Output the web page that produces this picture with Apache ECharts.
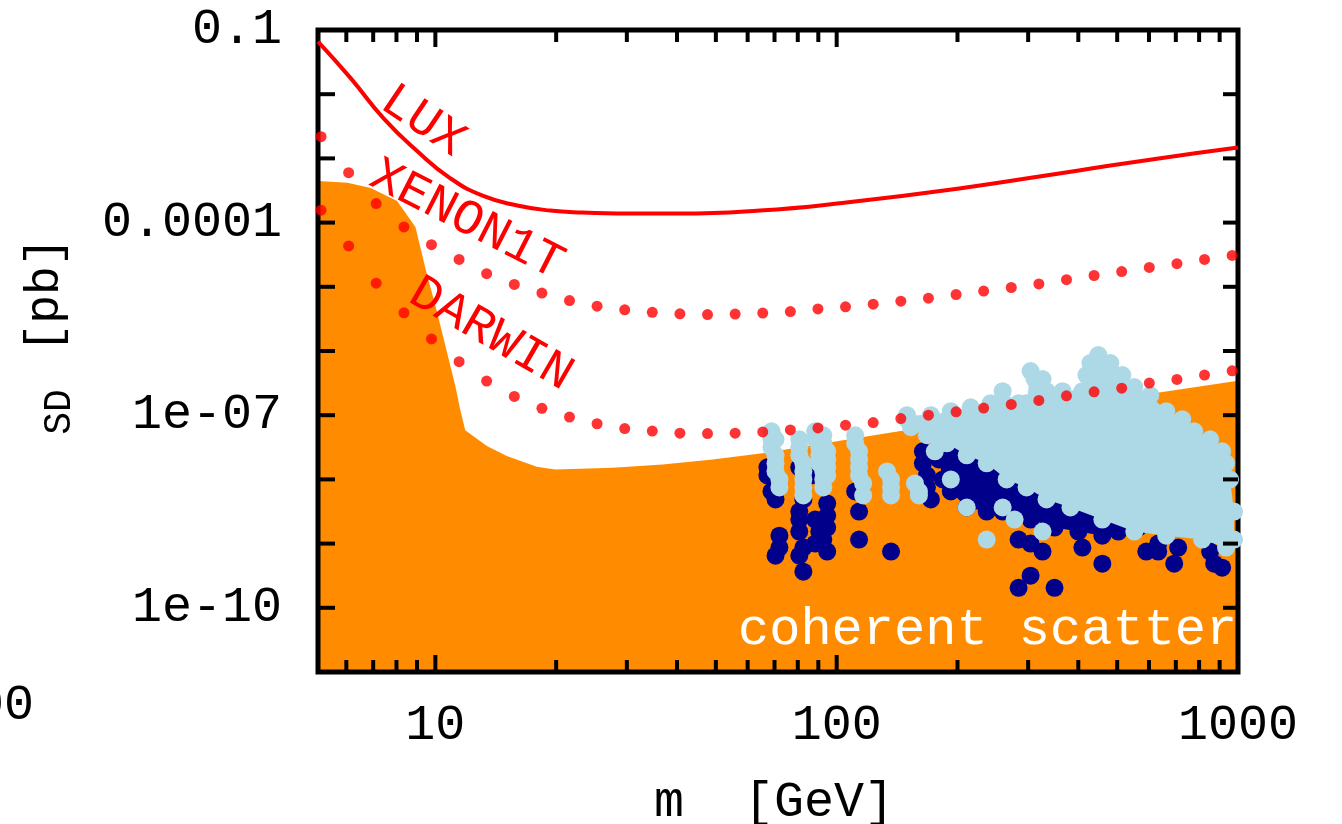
<!DOCTYPE html>
<html>
<head>
<meta charset="utf-8">
<script src="https://cdn.jsdelivr.net/npm/echarts@6/dist/echarts.min.js"></script>
<style>
  html, body { margin: 0; padding: 0; background: #ffffff; }
  #chart { width: 1342px; height: 824px; }
</style>
</head>
<body>
<div id="chart"></div>
<script>
// Axis ranges: dark-matter mass m [GeV] (log) vs spin-dependent cross section [pb] (log)
const X_MIN = 5.1, X_MAX = 1000;
const Y_MIN = 1e-11, Y_MAX = 0.1;

// Tick positions and labels
const xTickValues = [6, 7, 8, 9, 10, 20, 30, 40, 50, 60, 70, 80, 90, 100, 200, 300, 400, 500, 600, 700, 800, 900];
const xLabelValues = [10, 100, 1000];
const xLabelTexts = ['10', '100', '1000'];
const yTickValues = [1e-10, 1e-9, 1e-8, 1e-7, 1e-6, 1e-5, 1e-4, 1e-3, 1e-2];
const yLabelValues = [1e-10, 1e-7, 1e-4, 0.1];
const yLabelTexts = ['1e-10', '1e-07', '0.0001', '0.1'];

// LUX exclusion limit (solid)
const luxMass  = [5.1, 6.15, 7.43, 9.02, 10.9, 13.16, 16.0, 19.3, 23.3, 32.3, 40.6, 64.4, 101.6, 202, 401, 634, 1000];
const luxSigma = [0.066, 0.0178, 0.0042, 1.29e-3, 4.9e-4, 2.6e-4, 1.85e-4, 1.54e-4, 1.44e-4, 1.38e-4, 1.38e-4, 1.54e-4, 2.0e-4, 3.4e-4, 6.5e-4, 1.0e-3, 1.48e-3];

// Projected sensitivities (dotted), sampled at common masses
const dotMass = [5.19, 6.08, 7.12, 8.35, 9.78, 11.46, 13.42, 15.73, 18.43, 21.59, 25.29, 29.64, 34.72, 40.68, 47.66, 55.85, 65.43, 76.66, 89.82, 105.2, 123.3, 144.5, 169.3, 198.4, 232.4, 272.3, 319.0, 373.8, 437.9, 513.1, 601.2, 704.4, 825.3, 966.9];
const xenon1tSigma = [2.18e-3, 5.98e-4, 1.98e-4, 8.57e-5, 4.53e-5, 2.67e-5, 1.60e-5, 1.09e-5, 7.98e-6, 6.11e-6, 4.99e-6, 4.38e-6, 4.00e-6, 3.79e-6, 3.70e-6, 3.76e-6, 3.90e-6, 4.11e-6, 4.53e-6, 4.87e-6, 5.37e-6, 5.98e-6, 6.65e-6, 7.59e-6, 8.57e-6, 9.75e-6, 1.11e-5, 1.29e-5, 1.50e-5, 1.73e-5, 2.00e-5, 2.29e-5, 2.67e-5, 3.08e-5];
const darwinSigma = [1.56e-4, 4.33e-5, 1.14e-5, 3.93e-6, 1.54e-6, 6.81e-7, 3.40e-7, 1.96e-7, 1.28e-7, 9.37e-8, 7.36e-8, 6.19e-8, 5.66e-8, 5.24e-8, 5.18e-8, 5.24e-8, 5.48e-8, 5.89e-8, 6.34e-8, 6.98e-8, 7.69e-8, 8.87e-8, 1.0e-7, 1.13e-7, 1.29e-7, 1.47e-7, 1.70e-7, 2.00e-7, 2.31e-7, 2.64e-7, 3.16e-7, 3.61e-7, 4.22e-7, 4.92e-7];

// Coherent neutrino scattering floor (filled below)
const coherentMass  = [5.1, 6.04, 6.90, 8.03, 8.92, 9.45, 10.10, 10.69, 11.21, 11.54, 11.87, 13.44, 15.07, 17.89, 19.87, 27.69, 36.86, 49.07, 65.3, 143, 1000];
const coherentSigma = [4.45e-4, 4.17e-4, 3.46e-4, 2.17e-4, 8.57e-5, 1.91e-5, 4.03e-6, 9.55e-7, 2.87e-7, 1.20e-7, 5.83e-8, 3.31e-8, 2.31e-8, 1.58e-8, 1.43e-8, 1.52e-8, 1.71e-8, 2.05e-8, 2.55e-8, 5.62e-8, 3.44e-7];

// Model points excluded (dark) — dense band outline and scattered points
const navyBandEdge = [
  [179.7, 4.22e-8], [253.3, 1.54e-8], [357.0, 5.62e-9], [480.8, 2.74e-9], [564.4, 1.78e-9],
  [503.3, 1.54e-9], [459.2, 1.33e-9], [400.3, 1.54e-9], [349.0, 1.78e-9], [304.2, 2.37e-9],
  [259.2, 3.16e-9], [236.5, 3.16e-9], [210.9, 3.65e-9], [192.5, 6.49e-9], [183.9, 1.00e-8],
  [179.7, 2.05e-8]
];
const navyPoints = [
  [67.2, 1.54e-8], [67.2, 1.155e-8], [68.8, 6.49e-9], [70.4, 4.87e-9], [72.0, 1.33e-9], [72.0, 8.66e-10], [70.4, 6.49e-10],
  [80.7, 1.54e-8], [86.4, 1.155e-8], [82.6, 4.87e-9], [80.7, 3.16e-9], [80.7, 2.37e-9], [80.7, 1.54e-9],
  [82.6, 8.66e-10], [80.7, 6.49e-10], [82.6, 3.65e-10],
  [94.7, 4.22e-9], [94.7, 2.74e-9], [94.7, 1.78e-9], [92.6, 1.155e-9], [88.4, 1.00e-9], [94.7, 7.50e-10],
  [88.4, 2.37e-9], [90.5, 1.54e-9],
  [111.2, 6.49e-9], [113.7, 3.16e-9], [113.7, 1.155e-9], [136.6, 7.50e-10],
  [164.0, 2.74e-8], [164.0, 1.78e-8], [167.8, 1.155e-8], [167.8, 7.50e-9], [171.7, 4.87e-9],
  [284.0, 1.155e-9], [304.2, 1.00e-9], [325.8, 7.50e-10], [304.2, 3.16e-10], [284.0, 2.05e-10],
  [349.0, 2.05e-10], [409.5, 8.66e-10], [459.2, 4.87e-10], [590.8, 7.50e-10], [632.7, 1.00e-9],
  [632.7, 7.50e-10], [693.4, 4.87e-10], [709.5, 8.66e-10], [852.2, 7.50e-10], [872.0, 4.87e-10],
  [912.9, 4.22e-10]
];

// Model points allowed (light) — dense cloud outline, vertical streaks and isolated points
const lightCloudEdge = [
  [149.7, 1.00e-7], [171.7, 1.00e-7], [192.5, 1.155e-7], [215.8, 1.33e-7], [242.0, 1.54e-7],
  [259.2, 2.37e-7], [284.0, 1.54e-7], [297.3, 1.54e-7], [304.2, 4.87e-7], [325.8, 3.65e-7],
  [333.4, 2.37e-7], [349.0, 1.78e-7], [365.3, 2.37e-7], [391.2, 1.78e-7], [409.5, 2.37e-7],
  [419.0, 4.22e-7], [428.7, 6.49e-7], [448.8, 8.66e-7], [480.8, 6.49e-7], [514.9, 4.22e-7],
  [551.5, 2.74e-7], [604.5, 2.05e-7], [662.3, 1.155e-7], [726.0, 8.66e-8], [777.6, 5.62e-8],
  [852.2, 4.22e-8], [912.9, 2.74e-8], [933.7, 1.78e-8], [955.2, 1.00e-8], [977.5, 3.16e-9],
  [977.5, 1.155e-9], [933.7, 8.66e-10], [814.1, 1.155e-9], [662.3, 1.33e-9], [551.5, 1.54e-9],
  [459.2, 2.37e-9], [382.4, 3.65e-9], [333.4, 4.87e-9], [297.3, 7.50e-9], [265.2, 1.00e-8],
  [236.5, 1.78e-8], [210.9, 2.37e-8], [188.1, 3.65e-8], [175.6, 2.74e-8], [167.8, 4.87e-8],
  [153.1, 6.49e-8], [149.7, 8.66e-8]
];
const lightPoints = [
  [68.8, 5.62e-8], [68.8, 4.22e-8], [70.4, 4.22e-8], [68.8, 3.16e-8], [70.4, 2.37e-8], [70.4, 1.78e-8],
  [70.4, 1.33e-8], [72.0, 1.00e-8], [72.0, 7.50e-9],
  [80.7, 4.22e-8], [80.7, 3.16e-8], [80.7, 2.37e-8], [82.6, 1.78e-8], [82.6, 1.33e-8], [82.6, 1.00e-8],
  [82.6, 7.50e-9], [82.6, 5.62e-9],
  [88.4, 5.62e-8], [88.4, 4.22e-8], [90.5, 3.16e-8], [90.5, 2.37e-8], [90.5, 1.78e-8], [92.6, 1.33e-8],
  [92.6, 1.00e-8], [92.6, 7.50e-9],
  [92.6, 4.87e-8], [92.6, 3.65e-8], [94.7, 2.74e-8], [94.7, 2.05e-8], [94.7, 1.54e-8], [94.7, 1.155e-8],
  [111.2, 4.87e-8], [111.2, 3.65e-8], [113.7, 2.74e-8], [113.7, 2.05e-8], [113.7, 1.54e-8], [113.7, 1.155e-8],
  [116.4, 8.66e-9], [116.4, 5.62e-9],
  [133.5, 1.33e-8], [136.6, 1.00e-8], [136.6, 7.50e-9], [136.6, 5.62e-9],
  [156.7, 8.66e-9], [160.3, 6.49e-9], [160.3, 5.62e-9],
  [192.5, 1.00e-8], [210.9, 3.65e-9], [259.2, 3.65e-9], [277.6, 2.37e-9], [325.8, 1.54e-9], [236.5, 1.155e-9],
  [311.2, 3.65e-7], [318.4, 2.74e-7]
];

const FONT = 'Liberation Mono';
const RED = '#ff0000';
const ORANGE = '#ff8c00';
const NAVY = '#00008b';
const LIGHT = '#add8e6';
const POINT_SIZE = 18;

const chart = echarts.init(document.getElementById('chart'), null, { renderer: 'canvas' });

function pairs(xs, ys) { return xs.map((x, i) => [x, ys[i]]); }

function polygonSeries(points, color, z) {
  return {
    type: 'custom', coordinateSystem: 'cartesian2d', z: z, silent: true,
    data: [points[0]],
    renderItem: function (params, api) {
      return { type: 'polygon', shape: { points: points.map(p => api.coord(p)) }, style: { fill: color } };
    }
  };
}

function dotSeries(points, color, size, z) {
  return {
    type: 'scatter', data: points, symbol: 'circle', symbolSize: size, z: z, silent: true,
    itemStyle: { color: color, opacity: 1 }
  };
}

const option = {
  animation: false,
  backgroundColor: '#ffffff',
  grid: { left: 318, right: 104, top: 30, bottom: 152, show: false },
  xAxis: {
    type: 'log', logBase: 10, min: X_MIN, max: X_MAX,
    axisLine: { show: false }, axisTick: { show: false }, axisLabel: { show: false }, splitLine: { show: false }
  },
  yAxis: {
    type: 'log', logBase: 10, min: Y_MIN, max: Y_MAX,
    axisLine: { show: false }, axisTick: { show: false }, axisLabel: { show: false }, splitLine: { show: false }
  },
  series: [
    {
      name: 'coherent scatter', type: 'line', data: pairs(coherentMass, coherentSigma),
      showSymbol: false, symbol: 'none', smooth: false, z: 1, silent: true,
      lineStyle: { width: 0, opacity: 0 },
      areaStyle: { color: ORANGE, opacity: 1, origin: 'start' }
    },
    {
      // plot frame
      type: 'custom', coordinateSystem: 'cartesian2d', z: 2, silent: true,
      data: [[X_MIN, Y_MIN]],
      renderItem: function (params, api) {
        const a = api.coord([X_MIN, Y_MAX]);
        const b = api.coord([X_MAX, Y_MIN]);
        return { type: 'rect', shape: { x: a[0], y: a[1], width: b[0] - a[0], height: b[1] - a[1] },
                 style: { fill: 'none', stroke: '#000', lineWidth: 5 } };
      }
    },
    polygonSeries(navyBandEdge, NAVY, 3),
    dotSeries(navyBandEdge, NAVY, POINT_SIZE, 3),
    dotSeries(navyPoints, NAVY, POINT_SIZE, 3),
    polygonSeries(lightCloudEdge, LIGHT, 4),
    dotSeries(lightCloudEdge, LIGHT, POINT_SIZE, 4),
    dotSeries(lightPoints, LIGHT, POINT_SIZE, 4),
    {
      name: 'XENON1T', type: 'scatter', data: pairs(dotMass, xenon1tSigma), symbolSize: 11, z: 5, silent: true,
      itemStyle: { color: RED }
    },
    {
      name: 'DARWIN', type: 'scatter', data: pairs(dotMass, darwinSigma), symbolSize: 11, z: 5, silent: true,
      itemStyle: { color: RED }
    },
    {
      name: 'LUX', type: 'line', data: pairs(luxMass, luxSigma), smooth: 0.5, showSymbol: false, symbol: 'none',
      z: 5, silent: true, lineStyle: { color: RED, width: 4 }
    },
    {
      // ticks on bottom and top edges
      type: 'custom', coordinateSystem: 'cartesian2d', z: 7, silent: true,
      data: xTickValues.map(v => [v, Y_MIN]),
      renderItem: function (params, api) {
        const v = api.value(0);
        const b = api.coord([v, Y_MIN]);
        const t = api.coord([v, Y_MAX]);
        const lg = Math.log10(v);
        const len = Math.abs(lg - Math.round(lg)) < 1e-9 ? 17 : 12;
        const st = { stroke: '#000', lineWidth: 4 };
        return { type: 'group', children: [
          { type: 'line', shape: { x1: b[0], y1: b[1], x2: b[0], y2: b[1] - len }, style: st },
          { type: 'line', shape: { x1: t[0], y1: t[1], x2: t[0], y2: t[1] + len }, style: st }
        ] };
      }
    },
    {
      // ticks on left and right edges
      type: 'custom', coordinateSystem: 'cartesian2d', z: 7, silent: true,
      data: yTickValues.map(v => [X_MIN, v]),
      renderItem: function (params, api) {
        const v = api.value(1);
        const l = api.coord([X_MIN, v]);
        const r = api.coord([X_MAX, v]);
        const st = { stroke: '#000', lineWidth: 4 };
        return { type: 'group', children: [
          { type: 'line', shape: { x1: l[0], y1: l[1], x2: l[0] + 17, y2: l[1] }, style: st },
          { type: 'line', shape: { x1: r[0], y1: r[1], x2: r[0] - 15, y2: r[1] }, style: st }
        ] };
      }
    },
    {
      // x tick labels
      type: 'custom', coordinateSystem: 'cartesian2d', z: 7, silent: true,
      data: xLabelValues.map(v => [v, Y_MIN]),
      renderItem: function (params, api) {
        const p = api.coord([api.value(0), Y_MIN]);
        return { type: 'text', x: p[0], y: p[1] + 54,
                 style: { text: xLabelTexts[params.dataIndex], fontFamily: FONT, fontSize: 50, fill: '#000',
                          align: 'center', verticalAlign: 'middle' } };
      }
    },
    {
      // y tick labels
      type: 'custom', coordinateSystem: 'cartesian2d', z: 7, silent: true,
      data: yLabelValues.map(v => [X_MIN, v]),
      renderItem: function (params, api) {
        const p = api.coord([X_MIN, api.value(1)]);
        return { type: 'text', x: p[0] - 36, y: p[1],
                 style: { text: yLabelTexts[params.dataIndex], fontFamily: FONT, fontSize: 50, fill: '#000',
                          align: 'right', verticalAlign: 'middle' } };
      }
    }
  ],
  graphic: [
    { type: 'text', x: 423, y: 121, rotation: -34 * Math.PI / 180, z: 10,
      style: { text: 'LUX', fontFamily: FONT, fontSize: 50, fill: RED, align: 'center', verticalAlign: 'middle' } },
    { type: 'text', x: 467, y: 220, rotation: -27 * Math.PI / 180, z: 10,
      style: { text: 'XENON1T', fontFamily: FONT, fontSize: 50, fill: RED, align: 'center', verticalAlign: 'middle' } },
    { type: 'text', x: 491, y: 334, rotation: -30 * Math.PI / 180, z: 10,
      style: { text: 'DARWIN', fontFamily: FONT, fontSize: 50, fill: RED, align: 'center', verticalAlign: 'middle' } },
    { type: 'text', x: 738, y: 630, z: 10,
      style: { text: 'coherent scatter', fontFamily: FONT, fontSize: 52, fill: '#ffffff', align: 'left', verticalAlign: 'middle' } },
    { type: 'text', x: 654, y: 803, z: 10,
      style: { text: 'm  [GeV]', fontFamily: FONT, fontSize: 50, fill: '#000', align: 'left', verticalAlign: 'middle' } },
    { type: 'text', x: 45, y: 295, rotation: Math.PI / 2, z: 10,
      style: { text: '[pb]', fontFamily: FONT, fontSize: 48, fill: '#000', align: 'center', verticalAlign: 'middle' } },
    { type: 'text', x: 60, y: 412, rotation: Math.PI / 2, z: 10,
      style: { text: 'SD', fontFamily: FONT, fontSize: 38, fill: '#000', align: 'center', verticalAlign: 'middle' } },
    { type: 'text', x: 34, y: 706, z: 10,
      style: { text: '00', fontFamily: FONT, fontSize: 50, fill: '#000', align: 'right', verticalAlign: 'middle' } }
  ]
};

chart.setOption(option);
</script>
</body>
</html>
